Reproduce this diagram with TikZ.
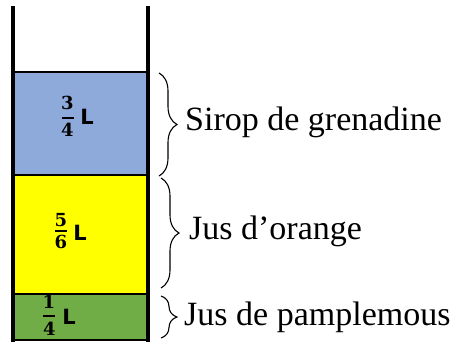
\documentclass[tikz,border=0pt]{standalone}
\usepackage{fontspec}
\setmainfont{Liberation Serif}
\newfontfamily\digfont{DejaVu Serif}
\newfontfamily\lfont{DejaVu Sans}
\usetikzlibrary{decorations.pathreplacing}
\definecolor{sirop}{HTML}{8EAADB}
\definecolor{orange}{HTML}{FFFF00}
\definecolor{pamp}{HTML}{70AD47}
\begin{document}
\begin{tikzpicture}[x=1pt,y=-1pt,
  layer/.style={draw=black,line width=1.6pt},
  wall/.style={line width=4pt,draw=black},
  mybrace/.style={decorate,decoration={brace,amplitude=18pt,raise=0pt},line width=1.1pt},
  lab/.style={anchor=west,inner sep=0pt,font=\fontsize{34}{36}\selectfont},
  dig/.style={inner sep=0pt,font=\digfont\bfseries\fontsize{18}{20}\selectfont},
  unit/.style={inner sep=0pt,font=\lfont\bfseries\fontsize{21}{23}\selectfont},
  fbar/.style={line width=2pt,draw=black}]
\useasboundingbox (0,0) rectangle (455,342);
\fill[white] (0,0) rectangle (455,342);
% layers
\path[layer,fill=sirop] (13,72) rectangle (148,175);
\path[layer,fill=orange] (13,175) rectangle (148,294);
\path[layer,fill=pamp] (13,294) rectangle (148,340);
% walls
\coordinate (tl) at (13,6);
\coordinate (bl) at (13,342);
\coordinate (tr) at (148,6);
\coordinate (br) at (148,342);
\draw[wall] (tl) -- (bl);
\draw[wall] (tr) -- (br);
% fraction 3/4
\node[dig] (n1) at (67.5,102.5) {3};
\node[dig] (d1) at (67.5,130) {4};
\coordinate (b1l) at (61.5,118);
\coordinate (b1r) at (73.5,118);
\draw[fbar] (b1l) -- (b1r);
\node[unit] (u1) at (87,116.5) {L};
% fraction 5/6
\node[dig] (n2) at (61,220) {5};
\node[dig] (d2) at (61,241.5) {6};
\coordinate (b2l) at (55,231);
\coordinate (b2r) at (67,231);
\draw[fbar] (b2l) -- (b2r);
\node[unit] (u2) at (80,232.5) {L};
% fraction 1/4
\node[dig] (n3) at (49,301.5) {1};
\node[dig] (d3) at (49.5,328.5) {4};
\coordinate (b3l) at (43,316);
\coordinate (b3r) at (55,316);
\draw[fbar] (b3l) -- (b3r);
\node[unit] (u3) at (69,316.5) {L};
% braces
\coordinate (b1t) at (159,73);
\coordinate (b1b) at (159,176);
\coordinate (b2t) at (161,178);
\coordinate (b2b) at (161,288);
\coordinate (b3t) at (161,296);
\coordinate (b3b) at (161,338);
\draw[mybrace] (b1t) -- (b1b);
\draw[mybrace] (b2t) -- (b2b);
\draw[mybrace,decoration={amplitude=16pt}] (b3t) -- (b3b);
% labels
\node[lab] (l1) at (185,122) {Sirop de grenadine};
\node[lab] (l2) at (189,231) {Jus d’orange};
\node[lab] (l3) at (184,317) {Jus de pamplemous};
\end{tikzpicture}
\end{document}
